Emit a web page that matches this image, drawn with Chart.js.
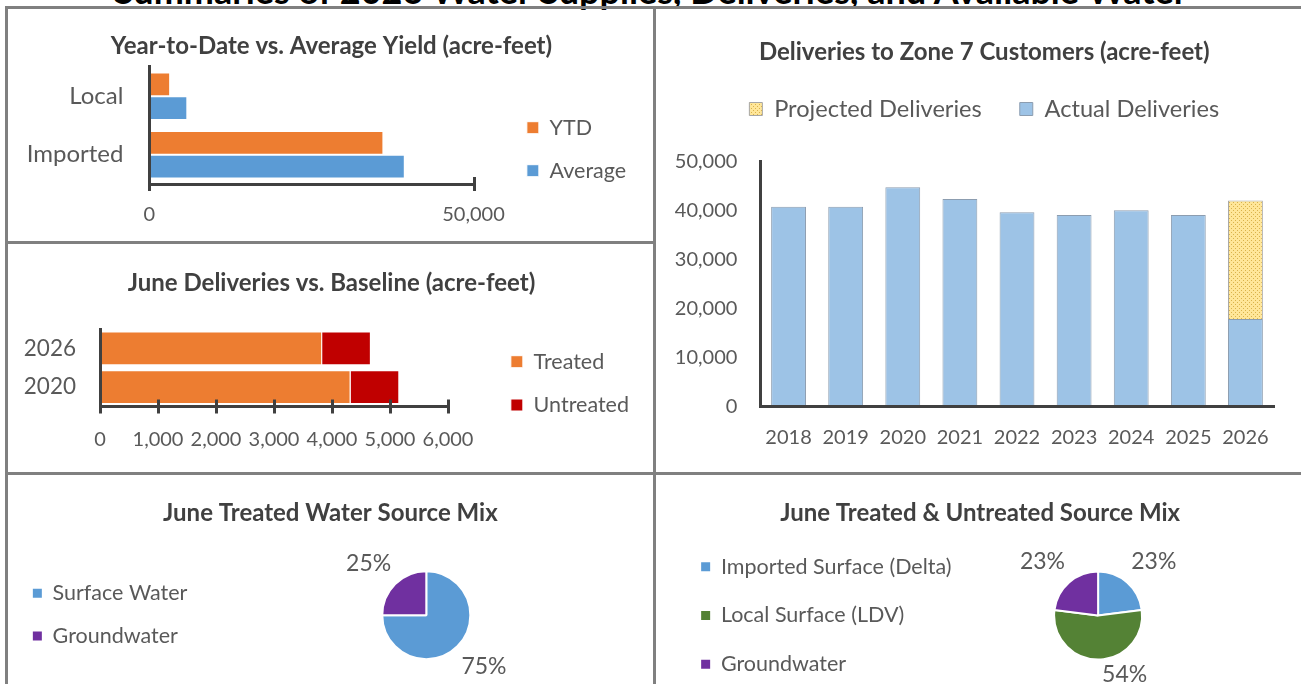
<!DOCTYPE html>
<html>
<head>
<meta charset="utf-8">
<title>Water supplies summary</title>
<script src="https://cdn.jsdelivr.net/npm/chart.js@4.4.1/dist/chart.umd.min.js"></script>
<style>
  html, body { margin: 0; padding: 0; background: #fff; }
  body { width: 1301px; height: 684px; position: relative; overflow: hidden; font-family: Lato, sans-serif; }
  .line { position: absolute; background: #808080; }
  canvas { position: absolute; }
  #head { position: absolute; left: 0; width: 1301px; top: -28px; text-align: center; font: bold 36px/36px Lato, sans-serif; color: #000; white-space: nowrap; }
</style>
</head>
<body>
<div id="head">Summaries of 2026 Water Supplies, Deliveries, and Available Water</div>
<div class="line" style="left:5px;top:6px;width:1296px;height:3px"></div>
<div class="line" style="left:5px;top:6px;width:3px;height:678px"></div>
<div class="line" style="left:653px;top:6px;width:3px;height:678px"></div>
<div class="line" style="left:5px;top:241px;width:650px;height:3px"></div>
<div class="line" style="left:5px;top:472px;width:1296px;height:3px"></div>
<canvas id="yieldChart" width="645" height="231" style="left:8px;top:10px"></canvas>
<canvas id="juneChart" width="645" height="228" style="left:8px;top:244px"></canvas>
<canvas id="deliveryChart" width="644" height="462" style="left:657px;top:10px"></canvas>
<canvas id="treatedMixChart" width="645" height="209" style="left:8px;top:475px"></canvas>
<canvas id="allMixChart" width="644" height="240" style="left:657px;top:475px"></canvas>
<script>
// data
const yieldCats = ['Local', 'Imported'];
const yieldYTD = [3200, 36100];
const yieldAvg = [5850, 39400];

const juneYears = ['2026', '2020'];
const juneTreated = [3830, 4320];
const juneUntreated = [840, 840];

const deliveryYears = ['2018', '2019', '2020', '2021', '2022', '2023', '2024', '2025', '2026'];
const actualDeliveries = [40800, 40800, 44800, 42400, 39700, 39100, 40100, 39100, 17900];
const projectedDeliveries = [null, null, null, null, null, null, null, null, 24200];

const treatedMixLabels = ['Surface Water', 'Groundwater'];
const treatedMix = [75, 25];

const allMixLabels = ['Imported Surface (Delta)', 'Local Surface (LDV)', 'Groundwater'];
const allMix = [23, 54, 23];

const AXIS = '#404040', TEXT = '#595959', TITLE = '#404040';
const BLUE = '#5B9BD5', ORANGE = '#ED7D31', DRED = '#C00000', PURPLE = '#7030A0', GREEN = '#548235', LBLUE = '#9DC3E6';
const LEG = 21.5; // legend font size

Chart.defaults.font.family = 'Lato';
Chart.defaults.color = TEXT;
Chart.defaults.animation = false;
Chart.defaults.plugins.tooltip.enabled = false;

const fmt = v => Number(v).toLocaleString('en-US');

function title(text, top, bottom) {
  return {display: true, text: text, color: TITLE, font: {size: 24, weight: 'bold'}, padding: {top: top, bottom: bottom}};
}
function legend(position, align, box, pad, size, extra) {
  const lg = {position: position, align: align,
    labels: {boxWidth: box, boxHeight: box, padding: pad, color: TEXT, font: {size: size}}};
  if (extra && extra.generateLabels) lg.labels.generateLabels = extra.generateLabels;
  if (extra && extra.reverse) lg.reverse = true;
  return lg;
}
// hidden axis that only reserves space in the layout
function gap(axis, position, size, weight) {
  return {
    type: 'linear', axis: axis, position: position, display: false, weight: weight || 0,
    afterFit: s => { if (axis === 'x') s.height = size; else s.width = size; }
  };
}
function noGrid() { return {display: false, drawTicks: false}; }
function axisLine() { return {display: true, color: AXIS, width: 3, z: 1}; }

const measureCtx = document.createElement('canvas').getContext('2d');
function legendWidth(texts, box, pad, size) {
  measureCtx.font = size + 'px Lato';
  const w = Math.max.apply(null, texts.map(t => measureCtx.measureText(t).width));
  return pad + box + size / 2 + w + 10;
}

// tick marks crossing the bottom axis, like the Excel charts
const crossTicks = {
  id: 'crossTicks',
  afterDraw(chart, args, opts) {
    const s = chart.scales.x, ctx = chart.ctx;
    ctx.save();
    ctx.strokeStyle = AXIS;
    ctx.lineWidth = 3;
    s.ticks.forEach((t, i) => {
      const px = Math.round(s.getPixelForTick(i)) + 0.5;
      ctx.beginPath();
      ctx.moveTo(px, s.top - opts.len);
      ctx.lineTo(px, s.top + opts.len);
      ctx.stroke();
    });
    ctx.restore();
  }
};

// percentage labels outside the pie slices
const pieLabels = {
  id: 'pieLabels',
  afterDatasetsDraw(chart, args, opts) {
    const ctx = chart.ctx;
    const meta = chart.getDatasetMeta(0);
    const vals = chart.data.datasets[0].data;
    const total = vals.reduce((a, b) => a + b, 0);
    ctx.save();
    ctx.font = opts.size + 'px Lato';
    ctx.fillStyle = TEXT;
    ctx.textAlign = 'center';
    ctx.textBaseline = 'middle';
    meta.data.forEach((arc, i) => {
      const p = arc.getProps(['x', 'y', 'startAngle', 'endAngle', 'outerRadius'], true);
      const mid = (p.startAngle + p.endAngle) / 2;
      const ex = p.x + Math.cos(mid) * p.outerRadius;
      const ey = p.y + Math.sin(mid) * p.outerRadius;
      const text = Math.round(vals[i] / total * 100) + '%';
      const w = ctx.measureText(text).width;
      const sx = Math.cos(mid) < -0.02 ? -1 : 1;
      const sy = Math.sin(mid) < 0 ? -1 : 1;
      const lx = ex + sx * (w / 2 + opts.gapX);
      const ly = Math.min(ey + sy * (opts.textH / 2 + opts.gapY), opts.maxY);
      ctx.fillText(text, lx, ly);
    });
    ctx.restore();
  }
};

function dotPattern() {
  const c = document.createElement('canvas');
  c.width = 4; c.height = 4;
  const g = c.getContext('2d');
  g.fillStyle = '#FFE699';
  g.fillRect(0, 0, 4, 4);
  g.fillStyle = '#D9B24A';
  g.fillRect(0, 0, 1, 1);
  g.fillRect(2, 2, 1, 1);
  return g.createPattern(c, 'repeat');
}

const pieLegendLabels = chart =>
  Chart.overrides.doughnut.plugins.legend.labels.generateLabels(chart).map(it => Object.assign(it, {lineWidth: 0}));

// Year-to-Date vs. Average Yield
const lw1 = legendWidth(['YTD', 'Average'], 12, 21.5, LEG);
new Chart(document.getElementById('yieldChart'), {
  type: 'bar',
  data: {
    labels: yieldCats,
    datasets: [
      {label: 'YTD', data: yieldYTD, backgroundColor: ORANGE, borderColor: '#fff', borderWidth: 1, xAxisID: 'x', yAxisID: 'y'},
      {label: 'Average', data: yieldAvg, backgroundColor: BLUE, borderColor: '#fff', borderWidth: 1, xAxisID: 'x', yAxisID: 'y'}
    ]
  },
  options: {
    indexAxis: 'y',
    responsive: false,
    layout: {padding: {left: 12, top: 47.4, right: 10, bottom: 0}},
    datasets: {bar: {categoryPercentage: 0.81, barPercentage: 1}},
    plugins: {
      title: title('Year-to-Date vs. Average Yield (acre-feet)', -25.1, 5.9),
      legend: legend('right', 'center', 12, 21.5, LEG),
      crossTicks: {len: 7}
    },
    scales: {
      x: {
        min: 0, max: 50000,
        grid: noGrid(), border: axisLine(),
        ticks: {stepSize: 50000, padding: 19, font: {size: 20}, callback: fmt},
        afterFit: s => { s.height = 57; }
      },
      y: {
        grid: noGrid(), border: axisLine(),
        ticks: {padding: 26, font: {size: 24}},
        afterFit: s => { s.width = 129.4; }
      },
      gapIn: gap('y', 'right', 31.85, 0),
      gapOut: gap('y', 'right', Math.max(0, 645 - 10 - 465.5 - 31.85 - lw1), 3000)
    }
  },
  plugins: [crossTicks]
});

// June Deliveries vs. Baseline
const lw2 = legendWidth(['Treated', 'Untreated'], 12, 21.8, LEG);
new Chart(document.getElementById('juneChart'), {
  type: 'bar',
  data: {
    labels: juneYears,
    datasets: [
      {label: 'Treated', data: juneTreated, backgroundColor: ORANGE, borderColor: '#fff', borderWidth: 1, xAxisID: 'x', yAxisID: 'y'},
      {label: 'Untreated', data: juneUntreated, backgroundColor: DRED, borderColor: '#fff', borderWidth: 1, xAxisID: 'x', yAxisID: 'y'}
    ]
  },
  options: {
    indexAxis: 'y',
    responsive: false,
    layout: {padding: {left: 12, top: 50.7, right: 10, bottom: 0}},
    datasets: {bar: {categoryPercentage: 0.87, barPercentage: 1}},
    plugins: {
      title: title('June Deliveries vs. Baseline (acre-feet)', -25.8, 31.3),
      legend: legend('right', 'center', 12, 21.8, LEG),
      crossTicks: {len: 7}
    },
    scales: {
      x: {
        stacked: true, min: 0, max: 6000,
        grid: noGrid(), border: axisLine(),
        ticks: {stepSize: 1000, padding: 20.8, font: {size: 20}, callback: fmt},
        afterFit: s => { s.height = 65.5; }
      },
      y: {
        stacked: true,
        grid: noGrid(), border: axisLine(),
        ticks: {padding: 24, font: {size: 22.5}},
        afterFit: s => { s.width = 80; }
      },
      gapIn: gap('y', 'right', 41.05, 0),
      gapOut: gap('y', 'right', Math.max(0, 645 - 10 - 440 - 41.05 - lw2), 3000)
    }
  },
  plugins: [crossTicks]
});

// Deliveries to Zone 7 Customers
new Chart(document.getElementById('deliveryChart'), {
  type: 'bar',
  data: {
    labels: deliveryYears,
    datasets: [
      {label: 'Actual Deliveries', data: actualDeliveries, backgroundColor: LBLUE, borderColor: '#8C9DB0', borderWidth: 1, xAxisID: 'x', yAxisID: 'y'},
      {label: 'Projected Deliveries', data: projectedDeliveries, backgroundColor: dotPattern(), borderColor: '#A6A6A6', borderWidth: 1, xAxisID: 'x', yAxisID: 'y'}
    ]
  },
  options: {
    responsive: false,
    layout: {padding: {left: 15, top: 0, right: 4.5, bottom: 0}},
    datasets: {bar: {categoryPercentage: 1, barPercentage: 0.61}},
    plugins: {
      title: title('Deliveries to Zone 7 Customers (acre-feet)', 28.3, -7.9),
      legend: legend('top', 'center', 13, 38, 23.6, {reverse: true})
    },
    scales: {
      x: {
        stacked: true,
        grid: noGrid(), border: axisLine(),
        ticks: {padding: 19.3, font: {size: 20}},
        afterFit: s => { s.height = 65.3; }
      },
      y: {
        stacked: true, min: 0, max: 50000,
        grid: noGrid(), border: axisLine(),
        ticks: {stepSize: 10000, padding: 22.6, font: {size: 20}, callback: fmt},
        afterFit: s => { s.width = 88; }
      },
      gapT: gap('x', 'top', 30.9, 0),
      gapR: gap('y', 'right', 22.5, 0)
    }
  }
});

// June Treated Water Source Mix
const lw4 = legendWidth(treatedMixLabels, 9, 21.2, LEG);
new Chart(document.getElementById('treatedMixChart'), {
  type: 'pie',
  data: {
    labels: treatedMixLabels,
    datasets: [{data: treatedMix, backgroundColor: [BLUE, PURPLE], borderColor: '#fff', borderWidth: 2, radius: 44}]
  },
  options: {
    responsive: false,
    layout: {padding: {left: 3.65, top: 70.3, right: 3.85, bottom: 0}},
    plugins: {
      title: title('June Treated Water Source Mix', -46.4, 18.7),
      legend: legend('left', 'center', 9, 21.2, LEG, {generateLabels: pieLegendLabels}),
      pieLabels: {size: 23, gapX: 4, gapY: 12, textH: 17, maxY: 200}
    },
    scales: {
      gapL: gap('y', 'left', Math.max(0, 318.3 - 3.65 - lw4), 0),
      gapR: gap('y', 'right', 122.85, 0)
    }
  },
  plugins: [pieLabels]
});

// June Treated & Untreated Source Mix
const lw5 = legendWidth(allMixLabels, 9, 27.3, LEG);
new Chart(document.getElementById('allMixChart'), {
  type: 'pie',
  data: {
    labels: allMixLabels,
    datasets: [{data: allMix, backgroundColor: [BLUE, GREEN, PURPLE], borderColor: '#fff', borderWidth: 2, radius: 44}]
  },
  options: {
    responsive: false,
    layout: {padding: {left: 16.85, top: 45, right: 14.65, bottom: 4}},
    plugins: {
      title: title('June Treated & Untreated Source Mix', -21.1, -7.6),
      legend: legend('left', 'center', 9, 27.3, LEG, {generateLabels: pieLegendLabels}),
      pieLabels: {size: 23, gapX: 4, gapY: 12, textH: 17, maxY: 200}
    },
    scales: {
      gapL: gap('y', 'left', Math.max(0, 341.1 - 16.85 - lw5), 0),
      gapR: gap('y', 'right', 88.25, 0)
    }
  },
  plugins: [pieLabels]
});
</script>
</body>
</html>
